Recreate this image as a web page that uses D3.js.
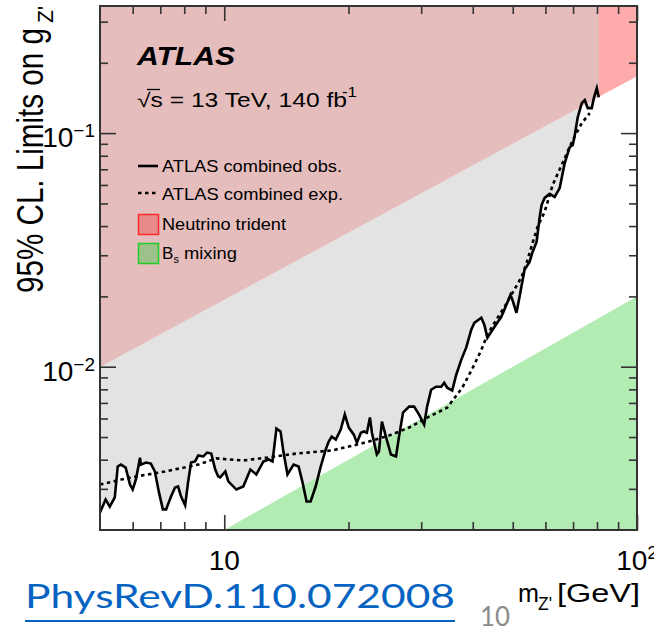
<!DOCTYPE html>
<html>
<head>
<meta charset="utf-8">
<script src="https://cdn.jsdelivr.net/npm/d3@7"></script>
<style>
  body { margin: 0; background: #fff; }
  text { font-family: "Liberation Sans", Arial, sans-serif; }
  text.footer { font-family: Lato, "Open Sans", sans-serif; }
</style>
</head>
<body>
<div id="chart"></div>
<script>
'use strict';

// Observed and expected 95% CL limits (mass in GeV, coupling g_Z')
const obsMass = [5.0, 5.16, 5.28, 5.43, 5.52, 5.62, 5.77, 5.91, 6.00, 6.11, 6.25, 6.28, 6.46, 6.64, 6.79,
  6.95, 7.10, 7.23, 7.43, 7.60, 7.73, 7.86, 8.04, 8.17, 8.31, 8.50, 8.65, 8.89, 9.09, 9.30, 9.51, 9.67,
  9.78, 10.06, 10.23, 10.70, 11.12, 11.57, 11.96, 12.44, 12.80, 13.09, 13.38, 13.69, 13.92, 14.23, 14.72,
  15.14, 15.48, 15.83, 16.19, 16.65, 17.13, 17.61, 17.91, 18.21, 18.63, 19.15, 19.59, 20.03, 20.60, 20.96,
  21.43, 21.80, 22.16, 22.54, 22.79, 23.43, 23.70, 24.10, 24.64, 25.34, 26.07, 26.51, 27.11, 28.04, 28.84,
  29.65, 30.50, 31.01, 31.71, 32.61, 33.54, 34.11, 34.68, 35.67, 36.48, 37.51, 38.58, 39.67, 40.35, 41.97,
  42.68, 43.40, 45.13, 46.94, 48.27, 49.36, 49.92, 51.05, 51.92, 53.40, 54.92, 55.85, 57.11, 58.07, 58.73,
  59.73, 61.42, 63.17, 64.97, 66.81, 68.71, 69.88, 70.67, 71.86, 73.48, 74.73, 75.99, 77.70, 78.60, 79.91,
  80.80];
const obsLimit = [0.00238, 0.00270, 0.00252, 0.00276, 0.00374, 0.00381, 0.00370, 0.00313, 0.00298, 0.00329,
  0.00408, 0.00381, 0.00389, 0.00385, 0.00356, 0.00289, 0.00245, 0.00245, 0.00278, 0.00304, 0.00307, 0.00278,
  0.00255, 0.00319, 0.00389, 0.00393, 0.00417, 0.00413, 0.00429, 0.00425, 0.00363, 0.00339, 0.00336, 0.00356,
  0.00323, 0.00298, 0.00307, 0.00363, 0.00346, 0.00393, 0.00401, 0.00393, 0.00543, 0.00528, 0.00429, 0.00346,
  0.00381, 0.00374, 0.00319, 0.00265, 0.00265, 0.00307, 0.00374, 0.00442, 0.00478, 0.00502, 0.00488, 0.00538,
  0.00624, 0.00549, 0.00512, 0.00473, 0.00522, 0.00528, 0.00522, 0.00606, 0.00522, 0.00421, 0.00433, 0.00582,
  0.00502, 0.00421, 0.00413, 0.00502, 0.00636, 0.00675, 0.00675, 0.00624, 0.00565, 0.00675, 0.00797, 0.00821,
  0.00821, 0.00854, 0.00813, 0.00790, 0.00924, 0.0107, 0.0121, 0.0144, 0.0154, 0.0162, 0.0151, 0.0133, 0.0148,
  0.0164, 0.0184, 0.0203, 0.0193, 0.0170, 0.0199, 0.0260, 0.0281, 0.0310, 0.0342, 0.0433, 0.0492, 0.0528,
  0.0549, 0.0533, 0.0582, 0.0744, 0.0871, 0.0889, 0.0980, 0.1171, 0.1344, 0.1384, 0.1279, 0.1279, 0.1411,
  0.1557, 0.1425];

const expMass = [5.0, 5.94, 7.19, 8.65, 9.56, 11.12, 12.65, 14.97, 18.21, 20.03, 22.41, 25.06, 28.04, 31.36,
  34.68, 37.73, 39.90, 41.97, 43.40, 45.64, 47.73, 49.92, 52.51, 54.01, 55.85, 57.43, 59.73, 62.46, 65.70,
  69.88, 73.48, 76.83];
const expLimit = [0.00313, 0.00336, 0.00356, 0.00381, 0.00405, 0.00397, 0.00408, 0.00425, 0.00438, 0.00455,
  0.00478, 0.00507, 0.00549, 0.00611, 0.00668, 0.00813, 0.00981, 0.0118, 0.0137, 0.0159, 0.0180, 0.0207,
  0.0242, 0.0278, 0.0339, 0.0397, 0.0460, 0.0600, 0.0730, 0.0934, 0.1103, 0.1218];

// Excluded regions from other measurements (straight lines in log-log)
const tridentMass = [5, 100];
const tridentLimit = [0.01, 0.175];
const bsMass = [10, 100];
const bsLimit = [0.002, 0.02];

// Axes
const xMajorTicks = [10, 100];
const xMinorTicks = [6, 7, 8, 9, 20, 30, 40, 50, 60, 70, 80, 90];
const xTickExponents = ['', '2'];
const yMajorTicks = [0.01, 0.1];
const yMinorTicks = [0.003, 0.004, 0.005, 0.006, 0.007, 0.008, 0.009,
  0.02, 0.03, 0.04, 0.05, 0.06, 0.07, 0.08, 0.09, 0.2, 0.3];
const yTickExponents = ['\u22122', '\u22121'];

const legendLabels = ['ATLAS combined obs.', 'ATLAS combined exp.', 'Neutrino trident', 'B', 'mixing'];

class LimitPlot {
  constructor(element) {

    // Margins and dimensions
    this.margin = {
      top: 6,
      right: 17,
      bottom: 101,
      left: 100
    };

    this.width = 654 - this.margin.left - this.margin.right;
    this.height = 631 - this.margin.top - this.margin.bottom;

    // Scales
    this.x = d3.scaleLog()
               .domain([5, 100])
               .range([0, this.width]);
    this.y = d3.scaleLog()
               .domain([0.002, 0.35])
               .range([this.height, 0]);

    // SVG
    this.root = d3.select(element).append('svg')
                  .attr('width', 654)
                  .attr('height', 631);
    this.svg = this.root.append('g')
                   .attr('transform', 'translate(' + this.margin.left + ',' + this.margin.top + ')');
  };

  renderRegions() {
    const x = this.x, y = this.y;
    const top = y.domain()[1];
    const obs = d3.zip(obsMass, obsLimit);

    // ATLAS excluded region above the observed limit
    this.svg.append('path')
        .datum(obs)
        .attr('fill', '#e3e3e3')
        .attr('d', d3.area()
                     .x((d) => { return x(d[0]); })
                     .y0(y(top))
                     .y1((d) => { return y(d[1]); }));

    // Neutrino trident, lighter where it does not overlap the ATLAS region
    const trident = [[tridentMass[0], tridentLimit[0]], [tridentMass[1], tridentLimit[1]],
                     [tridentMass[1], top], [tridentMass[0], top]];
    const poly = d3.line()
                   .x((d) => { return x(d[0]); })
                   .y((d) => { return y(d[1]); });

    this.root.append('clipPath')
        .attr('id', 'overlap')
        .append('rect')
        .attr('width', x(obsMass[obsMass.length - 1]))
        .attr('height', this.height);

    this.svg.append('path')
        .datum(trident)
        .attr('fill', '#ffabab')
        .attr('d', poly);
    this.svg.append('path')
        .datum(trident)
        .attr('fill', '#e5bdbd')
        .attr('clip-path', 'url(#overlap)')
        .attr('d', poly);

    // Bs mixing
    const bs = [[bsMass[0], bsLimit[0]], [bsMass[1], bsLimit[1]], [bsMass[1], y.domain()[0]]];
    this.svg.append('path')
        .datum(bs)
        .attr('fill', '#b3ecb3')
        .attr('d', poly);

    return this;
  };

  renderCurves() {
    const line = d3.line()
                   .x((d) => { return this.x(d[0]); })
                   .y((d) => { return this.y(d[1]); });

    this.svg.append('path')
        .datum(d3.zip(expMass, expLimit))
        .attr('fill', 'none')
        .attr('stroke', '#000')
        .attr('stroke-width', 2.6)
        .attr('stroke-dasharray', '3.5,3.5')
        .attr('d', line);

    this.svg.append('path')
        .datum(d3.zip(obsMass, obsLimit))
        .attr('fill', 'none')
        .attr('stroke', '#000')
        .attr('stroke-width', 2.6)
        .attr('stroke-linejoin', 'miter')
        .attr('d', line);

    return this;
  };

  tickAxis(axis, scale, values, size, transform) {
    this.svg.append('g')
        .attr('transform', transform)
        .attr('color', '#333')
        .call(axis(scale).tickValues(values).tickSize(size).tickSizeOuter(0).tickFormat(''))
        .call((g) => { g.select('.domain').remove(); })
        .selectAll('line')
        .attr('stroke-width', 1.6);
  };

  renderAxes() {
    const w = this.width, h = this.height;

    this.tickAxis(d3.axisBottom, this.x, xMajorTicks, -15, 'translate(0,' + h + ')');
    this.tickAxis(d3.axisBottom, this.x, xMinorTicks, -8, 'translate(0,' + h + ')');
    this.tickAxis(d3.axisTop, this.x, xMajorTicks, -15, 'translate(0,0)');
    this.tickAxis(d3.axisTop, this.x, xMinorTicks, -8, 'translate(0,0)');
    this.tickAxis(d3.axisLeft, this.y, yMajorTicks, -16, 'translate(0,0)');
    this.tickAxis(d3.axisLeft, this.y, yMinorTicks, -8, 'translate(0,0)');
    this.tickAxis(d3.axisRight, this.y, yMajorTicks, -16, 'translate(' + w + ',0)');
    this.tickAxis(d3.axisRight, this.y, yMinorTicks, -8, 'translate(' + w + ',0)');

    // Frame
    this.svg.append('rect')
        .attr('width', w)
        .attr('height', h)
        .attr('fill', 'none')
        .attr('stroke', '#333')
        .attr('stroke-width', 2);

    // Tick labels
    const xl = this.svg.selectAll('.xlabel')
        .data(xMajorTicks)
        .enter().append('text')
                .attr('class', 'xlabel')
                .attr('x', (d) => { return this.x(d); })
                .attr('y', h + 40)
                .attr('text-anchor', 'middle')
                .attr('font-size', 28);
    xl.append('tspan').text('10');
    xl.append('tspan')
      .attr('font-size', 19)
      .attr('dy', -11)
      .text((d, i) => { return xTickExponents[i]; });

    const yl = this.svg.selectAll('.ylabel')
        .data(yMajorTicks)
        .enter().append('text')
                .attr('class', 'ylabel')
                .attr('x', -5)
                .attr('y', (d) => { return this.y(d) + 14; })
                .attr('text-anchor', 'end')
                .attr('font-size', 28);
    yl.append('tspan').text('10');
    yl.append('tspan')
      .attr('font-size', 19)
      .attr('dy', -10)
      .text((d, i) => { return yTickExponents[i]; });

    return this;
  };

  renderTitles() {
    const r = this.root;

    // y title
    r.append('text')
     .attr('transform', 'translate(43,293) rotate(-90)')
     .attr('font-size', 37)
     .attr('textLength', 265)
     .attr('lengthAdjust', 'spacingAndGlyphs')
     .text('95% CL. Limits on g');
    r.append('text')
     .attr('transform', 'translate(53,23) rotate(-90)')
     .attr('font-size', 22)
     .attr('textLength', 17)
     .attr('lengthAdjust', 'spacingAndGlyphs')
     .text("Z'");

    // x title
    r.append('text').attr('x', 518).attr('y', 602).attr('font-size', 26)
     .attr('textLength', 21).attr('lengthAdjust', 'spacingAndGlyphs').text('m');
    r.append('text').attr('x', 538).attr('y', 610).attr('font-size', 18)
     .attr('textLength', 14).attr('lengthAdjust', 'spacingAndGlyphs').text("Z'");
    r.append('text').attr('x', 557).attr('y', 602).attr('font-size', 26)
     .attr('textLength', 83).attr('lengthAdjust', 'spacingAndGlyphs').text('[GeV]');

    // ATLAS label
    r.append('text').attr('x', 137).attr('y', 65).attr('font-size', 25.5)
     .attr('font-weight', 'bold').attr('font-style', 'italic')
     .attr('textLength', 98).attr('lengthAdjust', 'spacingAndGlyphs').text('ATLAS');
    r.append('text').attr('x', 137).attr('y', 107).attr('font-size', 19.5)
     .attr('textLength', 210).attr('lengthAdjust', 'spacingAndGlyphs')
     .text('\u221As = 13 TeV, 140 fb');
    r.append('line').attr('x1', 147).attr('x2', 160).attr('y1', 89.5).attr('y2', 89.5)
     .attr('stroke', '#000').attr('stroke-width', 1.3);
    r.append('text').attr('x', 342).attr('y', 97).attr('font-size', 14)
     .attr('textLength', 15).attr('lengthAdjust', 'spacingAndGlyphs').text('-1');

    return this;
  };

  renderLegend() {
    const r = this.root;
    const rows = [172, 200, 230, 259];

    r.append('line').attr('x1', 138).attr('x2', 158).attr('y1', 166).attr('y2', 166)
     .attr('stroke', '#000').attr('stroke-width', 2.6);
    r.append('line').attr('x1', 138).attr('x2', 159).attr('y1', 193).attr('y2', 193)
     .attr('stroke', '#000').attr('stroke-width', 2.6).attr('stroke-dasharray', '3.5,3.5');
    r.append('rect').attr('x', 138.5).attr('y', 214.5).attr('width', 20).attr('height', 20)
     .attr('fill', '#e98b8b').attr('stroke', '#ff2a2a').attr('stroke-width', 1.5);
    r.append('rect').attr('x', 138.5).attr('y', 243.5).attr('width', 20).attr('height', 20)
     .attr('fill', '#9dc18b').attr('stroke', '#22cc22').attr('stroke-width', 1.5);

    const widths = [180, 181, 124];
    widths.forEach((w, i) => {
      r.append('text').attr('x', 162).attr('y', rows[i]).attr('font-size', 17)
       .attr('textLength', w).attr('lengthAdjust', 'spacingAndGlyphs').text(legendLabels[i]);
    });
    r.append('text').attr('x', 162).attr('y', rows[3]).attr('font-size', 17).text(legendLabels[3]);
    r.append('text').attr('x', 173.5).attr('y', rows[3] + 4).attr('font-size', 11).text('s');
    r.append('text').attr('x', 184).attr('y', rows[3]).attr('font-size', 17)
     .attr('textLength', 53).attr('lengthAdjust', 'spacingAndGlyphs').text(legendLabels[4]);

    return this;
  };

  renderFooter() {
    const r = this.root;
    r.append('text').attr('class', 'footer').attr('x', 25).attr('y', 608)
     .attr('font-size', 33).attr('fill', '#0563c1')
     .attr('textLength', 430).attr('lengthAdjust', 'spacingAndGlyphs')
     .text('PhysRevD.110.072008');
    r.append('line').attr('x1', 25).attr('x2', 455).attr('y1', 621).attr('y2', 621)
     .attr('stroke', '#0563c1').attr('stroke-width', 2);
    r.append('text').attr('class', 'footer').attr('x', 480).attr('y', 626)
     .attr('font-size', 26).attr('fill', '#8c8c8c')
     .attr('textLength', 30).attr('lengthAdjust', 'spacingAndGlyphs')
     .text('10');
    return this;
  };
}

new LimitPlot('#chart')
  .renderRegions()
  .renderCurves()
  .renderAxes()
  .renderTitles()
  .renderLegend()
  .renderFooter();
</script>
</body>
</html>
